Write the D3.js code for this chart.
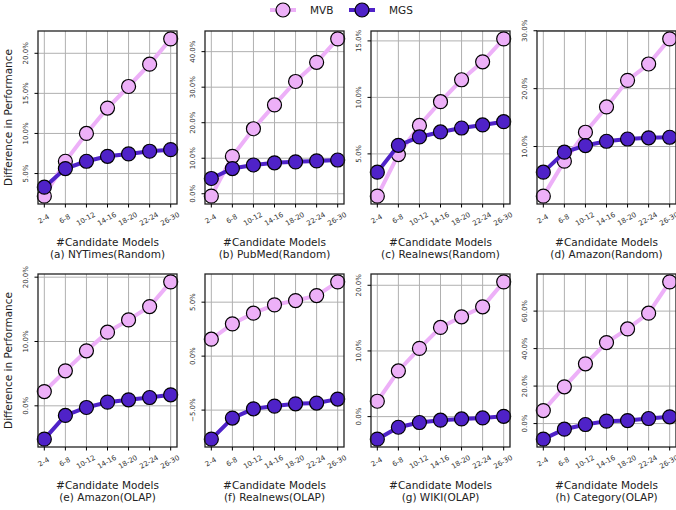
<!DOCTYPE html>
<html><head><meta charset="utf-8">
<script src="https://cdn.jsdelivr.net/npm/d3@7"></script>
<style>body{margin:0;background:#fff;} text{font-family:"DejaVu Sans",sans-serif;}</style>
</head><body><svg id="c" width="676" height="510"></svg>
<script>
const categories = ["2-4","6-8","10-12","14-16","18-20","22-24","26-30"];
const titles = ["(a) NYTimes(Random)","(b) PubMed(Random)","(c) Realnews(Random)","(d) Amazon(Random)",
  "(e) Amazon(OLAP)","(f) Realnews(OLAP)","(g) WIKI(OLAP)","(h) Category(OLAP)"];
const mvb = [
  [2.18,6.53,10.0,13.17,15.86,18.64,21.8],
  [-0.67,10.55,18.3,25.0,31.6,37.0,43.6],
  [1.26,4.94,7.52,9.62,11.56,13.15,15.18],
  [1.43,7.47,12.47,16.84,21.43,24.26,28.6],
  [2.22,5.44,8.55,11.45,13.36,15.43,19.27],
  [1.57,2.99,3.98,4.75,5.15,5.61,6.88],
  [2.34,6.95,10.39,13.58,15.2,16.72,20.52],
  [6.94,19.6,31.9,43.2,50.5,58.9,75.6]
];
const mgs = [
  [3.3,5.62,6.53,7.15,7.45,7.78,7.98],
  [4.3,7.1,8.1,8.7,8.98,9.25,9.5],
  [3.38,5.76,6.5,6.94,7.29,7.56,7.85],
  [5.57,9.02,10.17,10.91,11.3,11.5,11.6],
  [-5.18,-1.5,-0.26,0.57,0.93,1.29,1.71],
  [-7.69,-5.74,-4.88,-4.63,-4.42,-4.35,-3.98],
  [-3.43,-1.62,-0.9,-0.55,-0.35,-0.2,0.05],
  [-8.3,-3.0,-0.5,1.3,1.6,2.7,3.6]
];
const yTicks = [
  [5,10,15,20],[0,10,20,30,40],[5,10,15],[10,20,30],
  [0,10,20],[-5,0,5],[0,10,20],[0,20,40,60]
];
const seriesNames = ["MVB","MGS"];
const colors = {MVB:"#edb0f8", MGS:"#4f22c8"};

const svg = d3.select("#c");
const lefts = [38,205,371,537], tops = [31,274], W = 139, H = 173;

for (let i=0;i<8;i++){
  const col=i%4,row=Math.floor(i/4);
  const g = svg.append("g").attr("transform",`translate(${lefts[col]},${tops[row]})`);
  const x = d3.scaleLinear().domain([-0.3,6.3]).range([0,W]);
  const all = mvb[i].concat(mgs[i]);
  const lo=d3.min(all), hi=d3.max(all), pad=(hi-lo)*0.05;
  const y = d3.scaleLinear().domain([lo-pad,hi+pad]).range([H,0]);
  // grid
  g.selectAll(".gx").data(categories).enter().append("line")
    .attr("x1",(d,j)=>x(j)).attr("x2",(d,j)=>x(j)).attr("y1",0).attr("y2",H)
    .attr("stroke","#b0b0b0").attr("stroke-width",1);
  g.selectAll(".gy").data(yTicks[i]).enter().append("line")
    .attr("x1",0).attr("x2",W).attr("y1",d=>y(d)).attr("y2",d=>y(d))
    .attr("stroke","#b0b0b0").attr("stroke-width",1);
  // lines
  [["MVB",mvb[i]],["MGS",mgs[i]]].forEach(([name,vals])=>{
    const line=d3.line().x((d,j)=>x(j)).y(d=>y(d));
    g.append("path").datum(vals).attr("d",line).attr("fill","none")
      .attr("stroke",colors[name]).attr("stroke-width",4);
    g.selectAll(".pt"+name).data(vals).enter().append("circle")
      .attr("cx",(d,j)=>x(j)).attr("cy",d=>y(d)).attr("r",7)
      .attr("fill",colors[name]).attr("stroke","#000").attr("stroke-width",1.2);
  });
  // frame
  g.append("rect").attr("width",W).attr("height",H).attr("fill","none").attr("stroke","#222").attr("stroke-width",1.3);
  // x ticks
  const xa = g.append("g").attr("transform",`translate(0,${H})`);
  categories.forEach((c,j)=>{
    xa.append("line").attr("x1",x(j)).attr("x2",x(j)).attr("y1",0).attr("y2",3.5).attr("stroke","#000").attr("stroke-width",1);
    xa.append("text").attr("transform",`translate(${x(j)+0.5},${17}) rotate(-30)`)
      .attr("text-anchor","middle").attr("font-size",7).attr("fill","#333").text(c);
  });
  // y ticks
  yTicks[i].forEach(t=>{
    g.append("line").attr("x1",-3.5).attr("x2",0).attr("y1",y(t)).attr("y2",y(t)).attr("stroke","#000").attr("stroke-width",1);
    g.append("text").attr("transform",`translate(-10.5,${y(t)}) rotate(-90)`)
      .attr("text-anchor","middle").attr("font-size",7).attr("fill","#333").text(d3.format(".1f")(t)+"%");
  });
  g.append("text").attr("x",W/2).attr("y",H+41.5).attr("text-anchor","middle").attr("font-size",10.5).attr("fill","#222").text("#Candidate Models");
  g.append("text").attr("x",W/2).attr("y",H+53.5).attr("text-anchor","middle").attr("font-size",10.5).attr("fill","#222").text(titles[i]);
  if(col===0){
    g.append("text").attr("transform",`translate(-26,${H/2}) rotate(-90)`).attr("text-anchor","middle")
      .attr("font-size",10.5).attr("fill","#222").text("Difference in Performance");
  }
}
// legend
const lg = svg.append("g");
const lx=[283,362];
seriesNames.forEach((n,k)=>{
  lg.append("line").attr("x1",lx[k]-13).attr("x2",lx[k]+13).attr("y1",10).attr("y2",10).attr("stroke",colors[n]).attr("stroke-width",4);
  lg.append("circle").attr("cx",lx[k]).attr("cy",10).attr("r",7).attr("fill",colors[n]).attr("stroke","#000").attr("stroke-width",1.2);
  lg.append("text").attr("x",lx[k]+27).attr("y",14).attr("font-size",10.5).attr("fill","#222").text(n);
});
</script></body></html>
